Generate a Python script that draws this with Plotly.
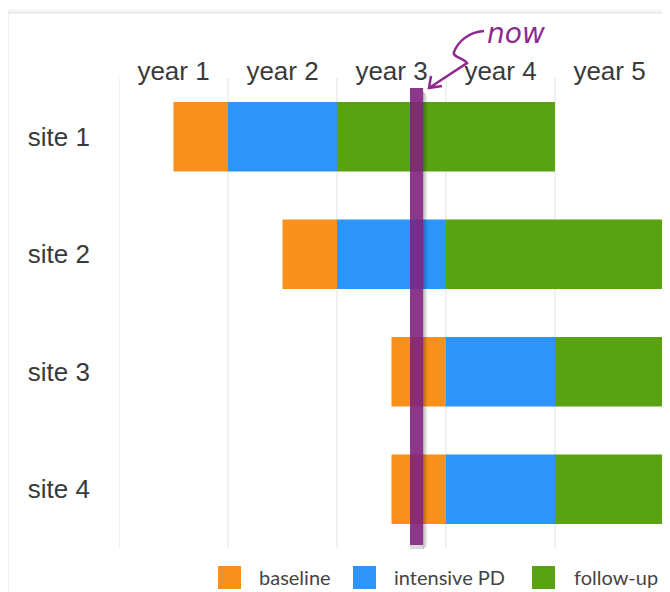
import plotly.graph_objects as go

# ---- data ----
sites = ["site 1", "site 2", "site 3", "site 4"]
phases = ["baseline", "intensive PD", "follow-up"]
colors = ["#F7901C", "#2D94FA", "#59A212"]
baseline_start = [0.5, 1.5, 2.5, 2.5]
baseline_end = [1.0, 2.0, 3.0, 3.0]
intensive_end = [2.0, 3.0, 4.0, 4.0]
followup_end = [4.0, 5.0, 5.0, 5.0]
year_labels = ["year 1", "year 2", "year 3", "year 4", "year 5"]
year_label_pos = [0.5, 1.5, 2.5, 3.5, 4.5]
year_grid = [0, 1, 2, 3, 4, 5]
now_value = 2.73

# page body has an 8px margin; work in screenshot pixels
OX, OY = 8, 8
W, H = 670 - OX, 592 - OY
L, R, T, B = 119 - OX, 6, 78 - OY, 44
PW, PH = W - L - R, H - T - B


def px(x, y):
    return (x - OX - L) / PW, (H - B - (y - OY)) / PH


starts = [baseline_start, baseline_end, intensive_end]
ends = [baseline_end, intensive_end, followup_end]

fig = go.Figure()
for name, col, s, e in zip(phases, colors, starts, ends):
    fig.add_trace(go.Bar(
        y=sites, x=[b - a for a, b in zip(s, e)], base=s,
        orientation="h", name=name, marker=dict(color=col, line=dict(width=0)),
        width=0.59, showlegend=False,
    ))

shapes = []
# card shadow
for i, a in enumerate([0.10, 0.06, 0.04, 0.025, 0.015]):
    x0, y0 = px(8 - i, 13 - i)
    x1, y1 = px(700, 620)
    shapes.append(dict(type="rect", xref="paper", yref="paper", x0=x0, y0=y1, x1=x1, y1=y0,
                       line=dict(color=f"rgba(0,0,0,{a})", width=1), layer="below"))

# vertical grid lines
for g in year_grid:
    shapes.append(dict(type="line", xref="x", yref="paper", x0=g, x1=g, y0=0, y1=1,
                       line=dict(color="#e2e2e2", width=1), layer="below"))

# now line with soft shadow
ytop = px(0, 88)[1]
ybot = px(0, 545)[1]
lw = 0.06
step = 1.0 / 109
for k, a in enumerate([0.28, 0.2, 0.13, 0.07, 0.03]):
    shapes.append(dict(type="rect", xref="x", yref="paper",
                       x0=now_value + lw + k * step, x1=now_value + lw + (k + 1) * step,
                       y0=px(0, 545 + 4 - k)[1], y1=px(0, 92 + k)[1],
                       fillcolor=f"rgba(0,0,0,{a})", line=dict(width=0)))
shapes.append(dict(type="rect", xref="x", yref="paper", x0=now_value - lw, x1=now_value + lw,
                   y0=px(0, 549)[1], y1=ybot, fillcolor="rgba(0,0,0,0.15)", line=dict(width=0)))
shapes.append(dict(type="rect", xref="x", yref="paper", x0=now_value - lw, x1=now_value + lw,
                   y0=ybot, y1=ytop, fillcolor="rgba(128,32,128,0.9)", line=dict(width=0)))

# hand-drawn arrow
pts = [(484, 31), (468, 32), (458, 42), (454, 52), (452, 57), (464, 58), (467, 63)]
p = [px(*q) for q in pts]
path = (f"M {p[0][0]},{p[0][1]} C {p[1][0]},{p[1][1]} {p[2][0]},{p[2][1]} {p[3][0]},{p[3][1]} "
        f"C {p[4][0]},{p[4][1]} {p[5][0]},{p[5][1]} {p[6][0]},{p[6][1]} ")
h = px(429, 88); b1 = px(431, 76); b2 = px(442, 86)
path += f"L {h[0]},{h[1]} M {b1[0]},{b1[1]} L {h[0]},{h[1]} L {b2[0]},{b2[1]}"
shapes.append(dict(type="path", xref="paper", yref="paper", path=path,
                   line=dict(color="#8E2A8E", width=2.5)))

annotations = []
nx, ny = px(516, 33)
annotations.append(dict(xref="paper", yref="paper", x=nx, y=ny, xanchor="center", yanchor="middle",
                        text="<i>now</i>", showarrow=False,
                        font=dict(family="DejaVu Sans", size=28, color="#8E2A8E")))

# legend
sq = [(218, 241), (353, 376), (532, 555)]
tx = [257, 392, 572]
for (a, b), t, name, col in zip(sq, tx, phases, colors):
    x0, y0 = px(a, 566)
    x1, y1 = px(b, 589)
    shapes.append(dict(type="rect", xref="paper", yref="paper", x0=x0, x1=x1, y0=y1, y1=y0,
                       fillcolor=col, line=dict(width=0)))
    ax, ay = px(t, 577)
    annotations.append(dict(xref="paper", yref="paper", x=ax, y=ay, xanchor="left", yanchor="middle",
                            text=name, showarrow=False, font=dict(family="Lato", size=20, color="#444")))

fig.update_layout(
    width=W, height=H, margin=dict(l=L, r=R, t=T, b=B),
    paper_bgcolor="white", plot_bgcolor="white", barmode="overlay",
    shapes=shapes, annotations=annotations, showlegend=False,
    xaxis=dict(range=[0, 5], side="top", tickvals=year_label_pos, ticktext=year_labels,
               showgrid=False, zeroline=False, showline=False, ticks="",
               tickfont=dict(family="Liberation Sans", size=26, color="#3a3a3a"),
               ticklabelstandoff=-8),
    yaxis=dict(autorange="reversed", showgrid=False, zeroline=False, showline=False, ticks="",
               tickfont=dict(family="Liberation Sans", size=26, color="#3a3a3a"),
               ticklabelstandoff=28),
)
fig.write_html("out.html")
